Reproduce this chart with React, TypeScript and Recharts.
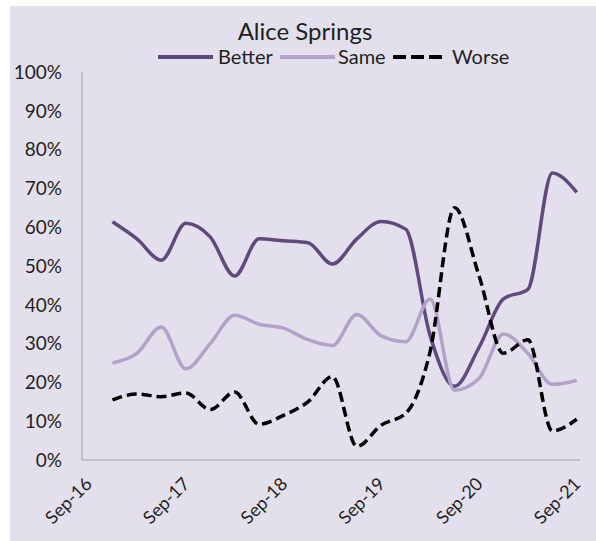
import { LineChart, Line, XAxis, YAxis } from 'recharts';

// survey months, counted from Sep-16 (quarterly readings)
const periods = [
  'Dec-16', 'Mar-17', 'Jun-17', 'Sep-17', 'Dec-17', 'Mar-18', 'Jun-18', 'Sep-18', 'Dec-18', 'Mar-19',
  'Jun-19', 'Sep-19', 'Dec-19', 'Mar-20', 'Jun-20', 'Sep-20', 'Dec-20', 'Mar-21', 'Jun-21', 'Sep-21',
];
const monthIndex = [3, 6, 9, 12, 15, 18, 21, 24, 27, 30, 33, 36, 39, 42, 45, 48, 51, 54, 57, 60];

const better = [61.4, 57, 51.5, 61, 57.5, 47.4, 57, 56.5, 56, 50.5, 57, 61.5, 59.5, 32, 19, 29, 41.5, 44, 74, 69];
const same = [25, 27.5, 34.3, 23.5, 30, 37.3, 35, 34, 31, 29.5, 37.5, 32, 30.5, 41.5, 18, 21, 32.5, 27.5, 19.5, 20.5];
const worse = [15.5, 17, 16.3, 17.3, 13, 17.5, 9.2, 11.5, 15, 21.5, 3.5, 9, 12, 28, 65, 47.5, 27.5, 31, 7.5, 10.5];

const xTicks = [0, 12, 24, 36, 48, 60];
const xTickLabels = ['Sep-16', 'Sep-17', 'Sep-18', 'Sep-19', 'Sep-20', 'Sep-21'];
const yTicks = [0, 10, 20, 30, 40, 50, 60, 70, 80, 90, 100];

const BG = '#E4DFEC';
const BETTER = '#604A7B';
const SAME = '#B3A2C7';
const TEXT = '#1f1f1f';
const FONT = 'Lato, "Open Sans", sans-serif';

const data = periods.map((p, i) => ({
  period: p,
  month: monthIndex[i],
  better: better[i],
  same: same[i],
  worse: worse[i],
}));

function DateTick(props: any) {
  const { x, y, payload } = props;
  const label = xTickLabels[xTicks.indexOf(payload.value)] ?? '';
  return (
    <g transform={`translate(${x + 5},${y + 17})`}>
      <text x={0} y={0} textAnchor="end" transform="rotate(-45)" fill={TEXT} fontSize={18} fontFamily={FONT}>
        {label}
      </text>
    </g>
  );
}

function Header() {
  return (
    <svg
      width={596}
      height={80}
      style={{ position: 'absolute', left: 0, top: 0, pointerEvents: 'none' }}
    >
      <text x={305} y={40} textAnchor="middle" fontSize={24} fontFamily={FONT} fill={TEXT}>
        Alice Springs
      </text>
      <line x1={158} y1={57} x2={213} y2={57} stroke={BETTER} strokeWidth={4} />
      <text x={218} y={63.5} fontSize={20} fontFamily={FONT} fill={TEXT}>Better</text>
      <line x1={280} y1={57} x2={335} y2={57} stroke={SAME} strokeWidth={4} />
      <text x={338} y={63.5} fontSize={20} fontFamily={FONT} fill={TEXT}>Same</text>
      <line x1={393} y1={57} x2={445} y2={57} stroke="#000" strokeWidth={4} strokeDasharray="13 5" />
      <text x={452} y={63.5} fontSize={20} fontFamily={FONT} fill={TEXT}>Worse</text>
    </svg>
  );
}

export default function App() {
  return (
    <div style={{ position: 'fixed', left: 0, top: 0, width: 596, height: 541, background: '#fff' }}>
      <div style={{ position: 'absolute', left: 10, top: 6, width: 586, height: 535, background: BG }}>
        <LineChart
          width={586}
          height={535}
          data={data}
          margin={{ top: 66, right: 16, left: 0, bottom: 11 }}
        >
          <XAxis
            type="number"
            dataKey="month"
            domain={[-0.74, 60.4]}
            allowDataOverflow
            ticks={xTicks}
            interval={0}
            height={70}
            tickLine={false}
            axisLine={{ stroke: '#A0A0A0' }}
            tick={<DateTick />}
          />
          <YAxis
            domain={[0, 100]}
            ticks={yTicks}
            interval={0}
            width={72}
            tickLine={false}
            tickMargin={14}
            axisLine={{ stroke: '#A0A0A0' }}
            tick={{ fill: TEXT, fontSize: 19, fontFamily: FONT }}
            tickFormatter={(v: number) => `${v}%`}
          />
          <Line
            type="monotone"
            dataKey="better"
            stroke={BETTER}
            strokeWidth={3.5}
            dot={false}
            isAnimationActive={false}
          />
          <Line
            type="monotone"
            dataKey="same"
            stroke={SAME}
            strokeWidth={3.5}
            dot={false}
            isAnimationActive={false}
          />
          <Line
            type="monotone"
            dataKey="worse"
            stroke="#000"
            strokeWidth={3.5}
            strokeDasharray="10 5"
            dot={false}
            isAnimationActive={false}
          />
        </LineChart>
      </div>
      <Header />
    </div>
  );
}
